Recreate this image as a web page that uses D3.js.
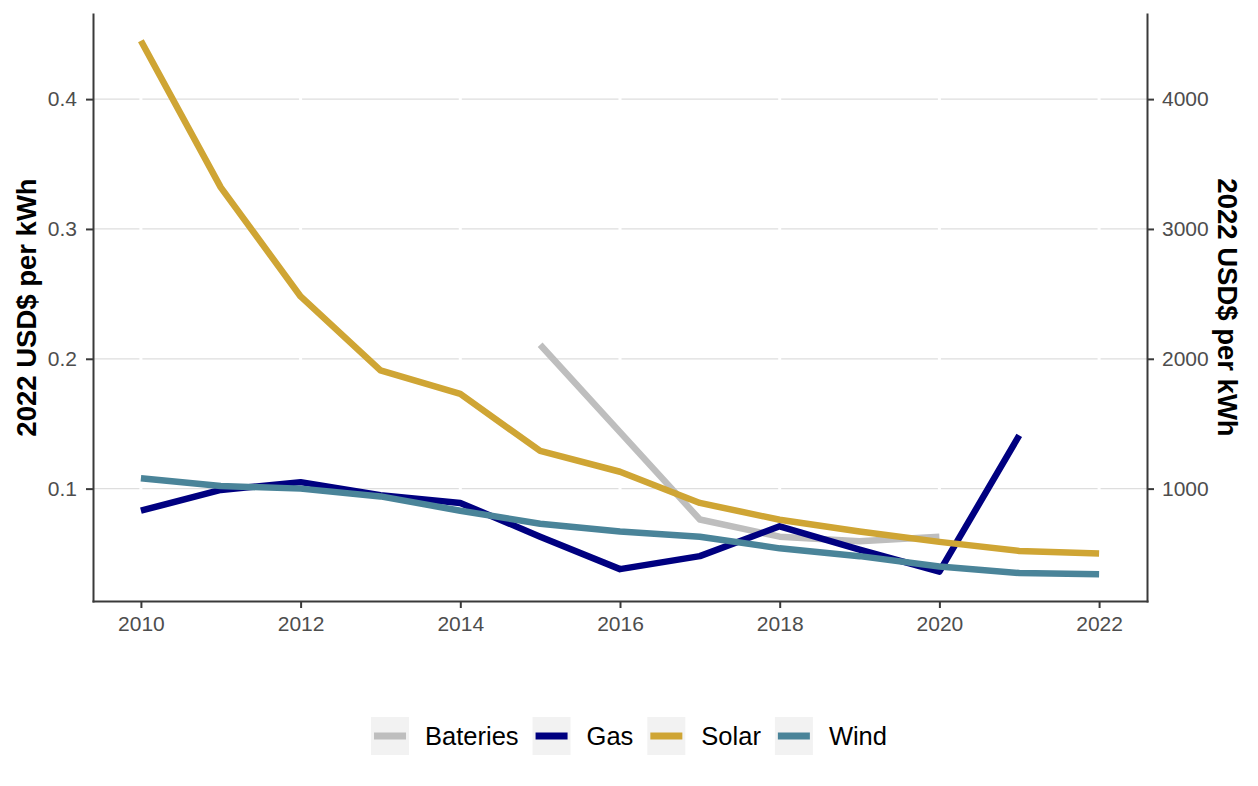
<!DOCTYPE html>
<html>
<head>
<meta charset="utf-8">
<script src="https://cdn.jsdelivr.net/npm/d3@7"></script>
<style>
  body { margin: 0; background: #fff; }
  text { font-family: "Liberation Sans", Arial, Helvetica, sans-serif; }
</style>
</head>
<body>
<div id="chart"></div>
<script>
// Values
var years = [2010, 2011, 2012, 2013, 2014, 2015, 2016, 2017, 2018, 2019, 2020, 2021, 2022];
var solar = [0.445, 0.332, 0.248, 0.191, 0.173, 0.129, 0.113, 0.089, 0.076, 0.067, 0.059, 0.052, 0.050];
var wind = [0.108, 0.102, 0.100, 0.094, 0.083, 0.073, 0.067, 0.063, 0.054, 0.048, 0.040, 0.035, 0.034];
var gasYears = [2010, 2011, 2012, 2013, 2014, 2015, 2016, 2017, 2018, 2019, 2020, 2021];
var gas = [0.083, 0.099, 0.105, 0.095, 0.089, 0.063, 0.038, 0.048, 0.071, 0.053, 0.036, 0.141];
// batteries are on the secondary (right) axis
var batteryYears = [2015, 2016, 2017, 2018, 2019, 2020];
var batteries = [2108, 1435, 762, 630, 595, 630];

var xTicks = [2010, 2012, 2014, 2016, 2018, 2020, 2022];
var leftTicks = [0.1, 0.2, 0.3, 0.4];
var rightTicks = [1000, 2000, 3000, 4000];
var secondaryFactor = 10000;

var seriesNames = ["Bateries", "Gas", "Solar", "Wind"];
var seriesColors = ["#bebebe", "#000080", "#cfa534", "#4a8499"];

var w = 1258;
var h = 786;
var pLeft = 93, pRight = 1147, pTop = 14, pBottom = 601;

var series = [
  { name: "Bateries", pts: batteryYears.map(function(y, i) { return { x: y, v: batteries[i] / secondaryFactor }; }) },
  { name: "Gas", pts: gasYears.map(function(y, i) { return { x: y, v: gas[i] }; }) },
  { name: "Solar", pts: years.map(function(y, i) { return { x: y, v: solar[i] }; }) },
  { name: "Wind", pts: years.map(function(y, i) { return { x: y, v: wind[i] }; }) }
];

var color = d3.scaleOrdinal().domain(seriesNames).range(seriesColors);

// ggplot style 5% expansion
var xExt = d3.extent(years);
var xPad = (xExt[1] - xExt[0]) * 0.05;
var xScale = d3.scaleLinear()
  .domain([xExt[0] - xPad, xExt[1] + xPad])
  .range([pLeft, pRight]);

var allV = [];
series.forEach(function(s) { s.pts.forEach(function(p) { allV.push(p.v); }); });
var yExt = d3.extent(allV);
var yPad = (yExt[1] - yExt[0]) * 0.05;
var yScale = d3.scaleLinear()
  .domain([yExt[0] - yPad, yExt[1] + yPad])
  .range([pBottom, pTop]);

var yRight = d3.scaleLinear()
  .domain(yScale.domain().map(function(d) { return d * secondaryFactor; }))
  .range([pBottom, pTop]);

var svg = d3.select("#chart")
  .append("svg")
  .attr("width", w)
  .attr("height", h);

// horizontal grid
svg.append("g")
  .selectAll("line")
  .data(leftTicks)
  .enter()
  .append("line")
  .attr("x1", pLeft)
  .attr("x2", pRight)
  .attr("y1", function(d) { return yScale(d); })
  .attr("y2", function(d) { return yScale(d); })
  .attr("stroke", "#dedede")
  .attr("stroke-width", 1.2);

// white vertical grid on top of it
svg.append("g")
  .selectAll("line")
  .data(xTicks)
  .enter()
  .append("line")
  .attr("x1", function(d) { return xScale(d); })
  .attr("x2", function(d) { return xScale(d); })
  .attr("y1", pTop)
  .attr("y2", pBottom)
  .attr("stroke", "#ffffff")
  .attr("stroke-width", 3);

var line = d3.line()
  .x(function(d) { return xScale(d.x); })
  .y(function(d) { return yScale(d.v); });

svg.append("g")
  .selectAll("path")
  .data(series)
  .enter()
  .append("path")
  .attr("d", function(d) { return line(d.pts); })
  .attr("fill", "none")
  .attr("stroke", function(d) { return color(d.name); })
  .attr("stroke-width", 6.5)
  .attr("stroke-linejoin", "round")
  .attr("stroke-linecap", "butt");

// axes
function styleAxis(g) {
  g.selectAll(".domain").attr("stroke", "#3a3a3a").attr("stroke-width", 2).attr("stroke-linecap", "square");
  g.selectAll(".tick line").attr("stroke", "#3a3a3a").attr("stroke-width", 2);
  g.selectAll(".tick text").attr("fill", "#4d4d4d").style("font-size", "21px");
}

svg.append("g")
  .attr("transform", "translate(0," + pBottom + ")")
  .call(d3.axisBottom(xScale).tickValues(xTicks).tickFormat(d3.format("d")).tickSizeInner(7).tickSizeOuter(0).tickPadding(8))
  .call(styleAxis);

svg.append("g")
  .attr("transform", "translate(" + pLeft + ",0)")
  .call(d3.axisLeft(yScale).tickValues(leftTicks).tickFormat(d3.format(".1f")).tickSizeInner(7).tickSizeOuter(0).tickPadding(9))
  .call(styleAxis);

svg.append("g")
  .attr("transform", "translate(" + pRight + ",0)")
  .call(d3.axisRight(yRight).tickValues(rightTicks).tickFormat(d3.format("d")).tickSizeInner(7).tickSizeOuter(0).tickPadding(8))
  .call(styleAxis);

// axis titles
svg.append("text")
  .attr("transform", "translate(26," + ((pTop + pBottom) / 2) + ") rotate(-90)")
  .attr("text-anchor", "middle")
  .attr("dy", "0.35em")
  .style("font-size", "27.5px")
  .style("font-weight", "bold")
  .attr("fill", "#000")
  .text("2022 USD$ per kWh");

svg.append("text")
  .attr("transform", "translate(1228," + ((pTop + pBottom) / 2) + ") rotate(90)")
  .attr("text-anchor", "middle")
  .attr("dy", "0.35em")
  .style("font-size", "27.5px")
  .style("font-weight", "bold")
  .attr("fill", "#000")
  .text("2022 USD$ per kWh");

// legend, centred on the page
var legendY = 717;
var keySize = 38;
var legend = svg.append("g");
var lx = 0;
seriesNames.forEach(function(name) {
  var g = legend.append("g").attr("transform", "translate(" + lx + "," + legendY + ")");
  g.append("rect")
    .attr("width", keySize)
    .attr("height", keySize)
    .attr("fill", "#f2f2f2");
  g.append("line")
    .attr("x1", 3)
    .attr("x2", keySize - 3)
    .attr("y1", keySize / 2)
    .attr("y2", keySize / 2)
    .attr("stroke", color(name))
    .attr("stroke-width", 7);
  var t = g.append("text")
    .attr("x", keySize + 16)
    .attr("y", keySize / 2)
    .attr("dy", "0.35em")
    .style("font-size", "25.5px")
    .attr("fill", "#000")
    .text(name);
  lx += keySize + 16 + t.node().getComputedTextLength() + 14;
});
var lw = lx - 14;
legend.attr("transform", "translate(" + (w / 2 - lw / 2) + ",0)");
</script>
</body>
</html>
